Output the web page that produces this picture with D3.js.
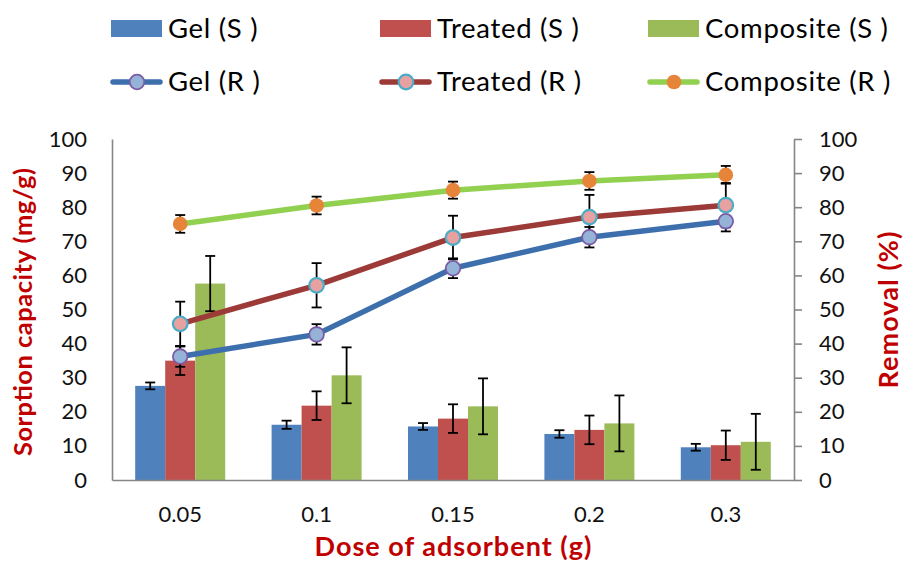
<!DOCTYPE html>
<html>
<head>
<meta charset="utf-8">
<script src="https://cdn.jsdelivr.net/npm/d3@7"></script>
<style>
  html, body { margin: 0; padding: 0; background: #fff; }
  svg { display: block; font-family: Lato, "Open Sans", sans-serif; }
</style>
</head>
<body>
<svg id="chart" width="903" height="562"></svg>
<script>
// Adsorbent dose levels (g)
const doses = ["0.05", "0.1", "0.15", "0.2", "0.3"];

// Sorption capacity (mg/g), bars
const gelS = [27.6, 16.2, 15.7, 13.5, 9.6];
const treatedS = [35.0, 21.8, 18.0, 14.7, 10.2];
const compositeS = [57.6, 30.7, 21.6, 16.6, 11.2];
const gelSErr = [1.0, 1.2, 1.0, 1.1, 1.0];
const treatedSErr = [4.2, 4.2, 4.2, 4.2, 4.3];
const compositeSErr = [8.1, 8.2, 8.2, 8.2, 8.2];

// Removal (%), lines
const gelR = [36.2, 42.7, 62.1, 71.2, 75.9];
const treatedR = [45.8, 57.1, 71.1, 77.1, 80.6];
const compositeR = [75.1, 80.5, 85.0, 87.7, 89.5];
const gelRErr = [3.0, 3.0, 2.9, 3.0, 3.0];
const treatedRErr = [6.5, 6.5, 6.4, 6.5, 6.5];
const compositeRErr = [2.6, 2.6, 2.5, 2.6, 2.6];

const yTicks = [0, 10, 20, 30, 40, 50, 60, 70, 80, 90, 100];

const barSeries = [
  { name: "Gel (S )", values: gelS, err: gelSErr, color: "#4F81BD" },
  { name: "Treated (S )", values: treatedS, err: treatedSErr, color: "#C0504D" },
  { name: "Composite (S )", values: compositeS, err: compositeSErr, color: "#9BBB59" }
];
const lineSeries = [
  { name: "Gel (R )", values: gelR, err: gelRErr, line: "#3E6FAD", fill: "#95B3D7", stroke: "#7B5BA6", sw: 1.8 },
  { name: "Treated (R )", values: treatedR, err: treatedRErr, line: "#9C3A38", fill: "#E6A1A0", stroke: "#4BACC6", sw: 2.2 },
  { name: "Composite (R )", values: compositeR, err: compositeRErr, line: "#92D050", fill: "#E6853A", stroke: "none", sw: 0 }
];

const svg = d3.select("#chart");
const plotLeft = 112, plotRight = 794, plotTop = 139, plotBottom = 480;

const x = d3.scaleBand().domain(doses).range([plotLeft, plotRight]).paddingInner(0).paddingOuter(0);
const xInner = d3.scaleBand().domain(barSeries.map(d => d.name)).range([-45, 45]);
const yL = d3.scaleLinear().domain([0, 100]).range([plotBottom, plotTop]);
const yR = d3.scaleLinear().domain([0, 100]).range([plotBottom, plotTop]);
const cx = d => x(d) + x.bandwidth() / 2;

const axisColor = "#868686";
const tickFont = 22;

// Bars
barSeries.forEach(s => {
  const g = svg.append("g");
  g.selectAll("rect").data(doses).join("rect")
    .attr("x", d => cx(d) + xInner(s.name))
    .attr("width", xInner.bandwidth())
    .attr("y", (d, i) => yL(s.values[i]))
    .attr("height", (d, i) => plotBottom - yL(s.values[i]))
    .attr("fill", s.color);
});

function errorBars(g, xs, vals, errs, scale) {
  const cap = 5;
  xs.forEach((xv, i) => {
    const y1 = scale(vals[i] + errs[i]), y2 = scale(vals[i] - errs[i]);
    g.append("line").attr("x1", xv).attr("x2", xv).attr("y1", y1).attr("y2", y2);
    g.append("line").attr("x1", xv - cap).attr("x2", xv + cap).attr("y1", y1).attr("y2", y1);
    g.append("line").attr("x1", xv - cap).attr("x2", xv + cap).attr("y1", y2).attr("y2", y2);
  });
  g.attr("stroke", "#000").attr("stroke-width", 1.8);
}

barSeries.forEach(s => {
  const g = svg.append("g");
  errorBars(g, doses.map(d => cx(d) + xInner(s.name) + xInner.bandwidth() / 2), s.values, s.err, yL);
});

// Axes
const axL = svg.append("g").attr("transform", `translate(${plotLeft},0)`)
  .call(d3.axisLeft(yL).tickValues(yTicks).tickSize(0).tickPadding(25));
const axR = svg.append("g").attr("transform", `translate(${plotRight},0)`)
  .call(d3.axisRight(yR).tickValues(yTicks).tickSize(8).tickPadding(17).tickSizeOuter(0));
const axB = svg.append("g").attr("transform", `translate(0,${plotBottom})`)
  .call(d3.axisBottom(x).tickSize(0).tickPadding(26));
[axL, axR, axB].forEach(a => {
  a.selectAll("path, line").attr("stroke", axisColor).attr("stroke-width", 1.6);
  a.selectAll("text").attr("font-size", tickFont).attr("fill", "#111").attr("font-family", "Lato, sans-serif");
});

// Lines with error bars and markers
const lineGen = (vals) => d3.line().x((d, i) => cx(doses[i])).y(d => yR(d))(vals);
lineSeries.forEach(s => {
  svg.append("path").attr("d", lineGen(s.values))
    .attr("fill", "none").attr("stroke", s.line).attr("stroke-width", 5.5)
    .attr("stroke-linejoin", "round").attr("stroke-linecap", "round");
});
lineSeries.forEach(s => {
  const g = svg.append("g");
  errorBars(g, doses.map(cx), s.values, s.err, yR);
});
lineSeries.forEach(s => {
  svg.append("g").selectAll("circle").data(doses).join("circle")
    .attr("cx", d => cx(d))
    .attr("cy", (d, i) => yR(s.values[i]))
    .attr("r", 7.3)
    .attr("fill", s.fill).attr("stroke", s.stroke).attr("stroke-width", s.sw);
});

// Axis titles
const titleColor = "#C00000";
function title(tx, ty, rot, len, size, label) {
  svg.append("text")
    .attr("transform", `translate(${tx},${ty}) rotate(${rot})`)
    .attr("text-anchor", "middle").attr("font-weight", "bold").attr("font-size", size)
    .attr("textLength", len).attr("lengthAdjust", "spacing")
    .attr("fill", titleColor).text(label);
}
title(32, 312, -90, 288, 25.5, "Sorption capacity (mg/g)");
title(898, 310, -90, 157, 27, "Removal (%)");
title(453, 556, 0, 277, 27, "Dose of adsorbent (g)");

// Legend
const legendX = [111, 380, 648];
barSeries.forEach((s, i) => {
  const g = svg.append("g").attr("transform", `translate(${legendX[i]},0)`);
  g.append("rect").attr("x", 0).attr("y", 20).attr("width", 51).attr("height", 17).attr("fill", s.color);
  g.append("text").attr("x", 57).attr("y", 37.5).attr("font-size", 27.5).attr("letter-spacing", 0.7)
    .attr("fill", "#000").text(s.name);
});
lineSeries.forEach((s, i) => {
  const g = svg.append("g").attr("transform", `translate(${legendX[i]},0)`);
  g.append("line").attr("x1", 2).attr("x2", 49).attr("y1", 82).attr("y2", 82)
    .attr("stroke", s.line).attr("stroke-width", 5.5).attr("stroke-linecap", "round");
  g.append("circle").attr("cx", 26).attr("cy", 82).attr("r", 7.3)
    .attr("fill", s.fill).attr("stroke", s.stroke).attr("stroke-width", s.sw);
  g.append("text").attr("x", 57).attr("y", 90.5).attr("font-size", 27.5).attr("letter-spacing", 0.7)
    .attr("fill", "#000").text(s.name);
});
</script>
</body>
</html>
